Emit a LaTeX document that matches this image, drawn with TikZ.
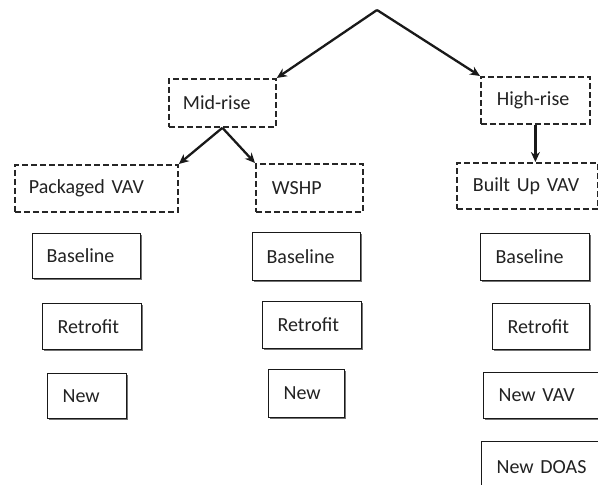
\documentclass[tikz,border=0pt]{standalone}
\usepackage{fontspec}
\setmainfont{Carlito}
\usetikzlibrary{arrows.meta,shadows}
\definecolor{txt}{HTML}{222222}
\begin{document}
\begin{tikzpicture}[x=1pt,y=-1pt,
  font=\fontsize{20}{24}\selectfont,
  every node/.style={text=txt},
  base/.style={anchor=north west, inner xsep=14pt, inner ysep=0pt, align=left},
  dbox/.style={base, draw=black!85, line width=1.8pt, dash pattern=on 6pt off 3pt},
  sbox/.style={base, draw=black!90, line width=1.2pt, fill=white,
     drop shadow={shadow xshift=1.5pt, shadow yshift=-1.5pt, fill=black!55, opacity=1}},
  arr/.style={-{Stealth[length=10pt,width=9pt]}, line width=2.3pt, draw=black!90}]
\clip (0,0) rectangle (598,485);
\fill[white] (0,0) rectangle (598,485);
\coordinate (apex) at (377,10);
% dashed category boxes
\node[dbox, text width=79pt, minimum height=48pt] (mid) at (168,78) {Mid-rise};
\node[dbox, text width=77pt, minimum height=47pt, inner xsep=16pt] (high) at (480,76) {High-rise};
\node[dbox, text width=135pt, minimum height=47pt] (pvav) at (14,164) {Packaged VAV};
\node[dbox, text width=75pt, minimum height=48pt, inner xsep=16pt] (wshp) at (255,163) {WSHP};
\node[dbox, text width=109pt, minimum height=46pt, inner xsep=16pt] (buvav) at (456,162) {Built Up VAV};
% column 1
\node[sbox, text width=80pt, minimum height=45pt, inner xsep=14pt] (b1) at (32,233) {Baseline};
\node[sbox, text width=69pt, minimum height=46pt, inner xsep=15pt] (r1) at (42,303) {Retrofit};
\node[sbox, text width=49pt, minimum height=45pt, inner xsep=15pt] (n1) at (47,373) {New};
% column 2
\node[sbox, text width=80pt, minimum height=48pt] (b2) at (252,232) {Baseline};
\node[sbox, text width=69pt, minimum height=47pt, inner xsep=15pt] (r2) at (262,301) {Retrofit};
\node[sbox, text width=46pt, minimum height=48pt, inner xsep=15pt] (n2) at (268,369) {New};
% column 3
\node[sbox, text width=79pt, minimum height=47pt, inner xsep=15pt] (b3) at (480,233) {Baseline};
\node[sbox, text width=67pt, minimum height=46pt, inner xsep=15pt] (r3) at (492,303) {Retrofit};
\node[sbox, text width=85pt, minimum height=46pt, inner xsep=15pt] (nv3) at (483,372) {New VAV};
\node[sbox, text width=100pt, minimum height=50pt, inner xsep=15pt] (nd3) at (481,441) {New DOAS};
% connectors
\draw[arr] (apex) -- (mid.north east);
\draw[arr] (apex) -- (high.north west);
\draw[arr] (mid.south) -- (pvav.north east);
\draw[arr] (mid.south) -- (wshp.north west);
\draw[arr] (high.south) -- (high.south |- buvav.north);
\end{tikzpicture}
\end{document}
